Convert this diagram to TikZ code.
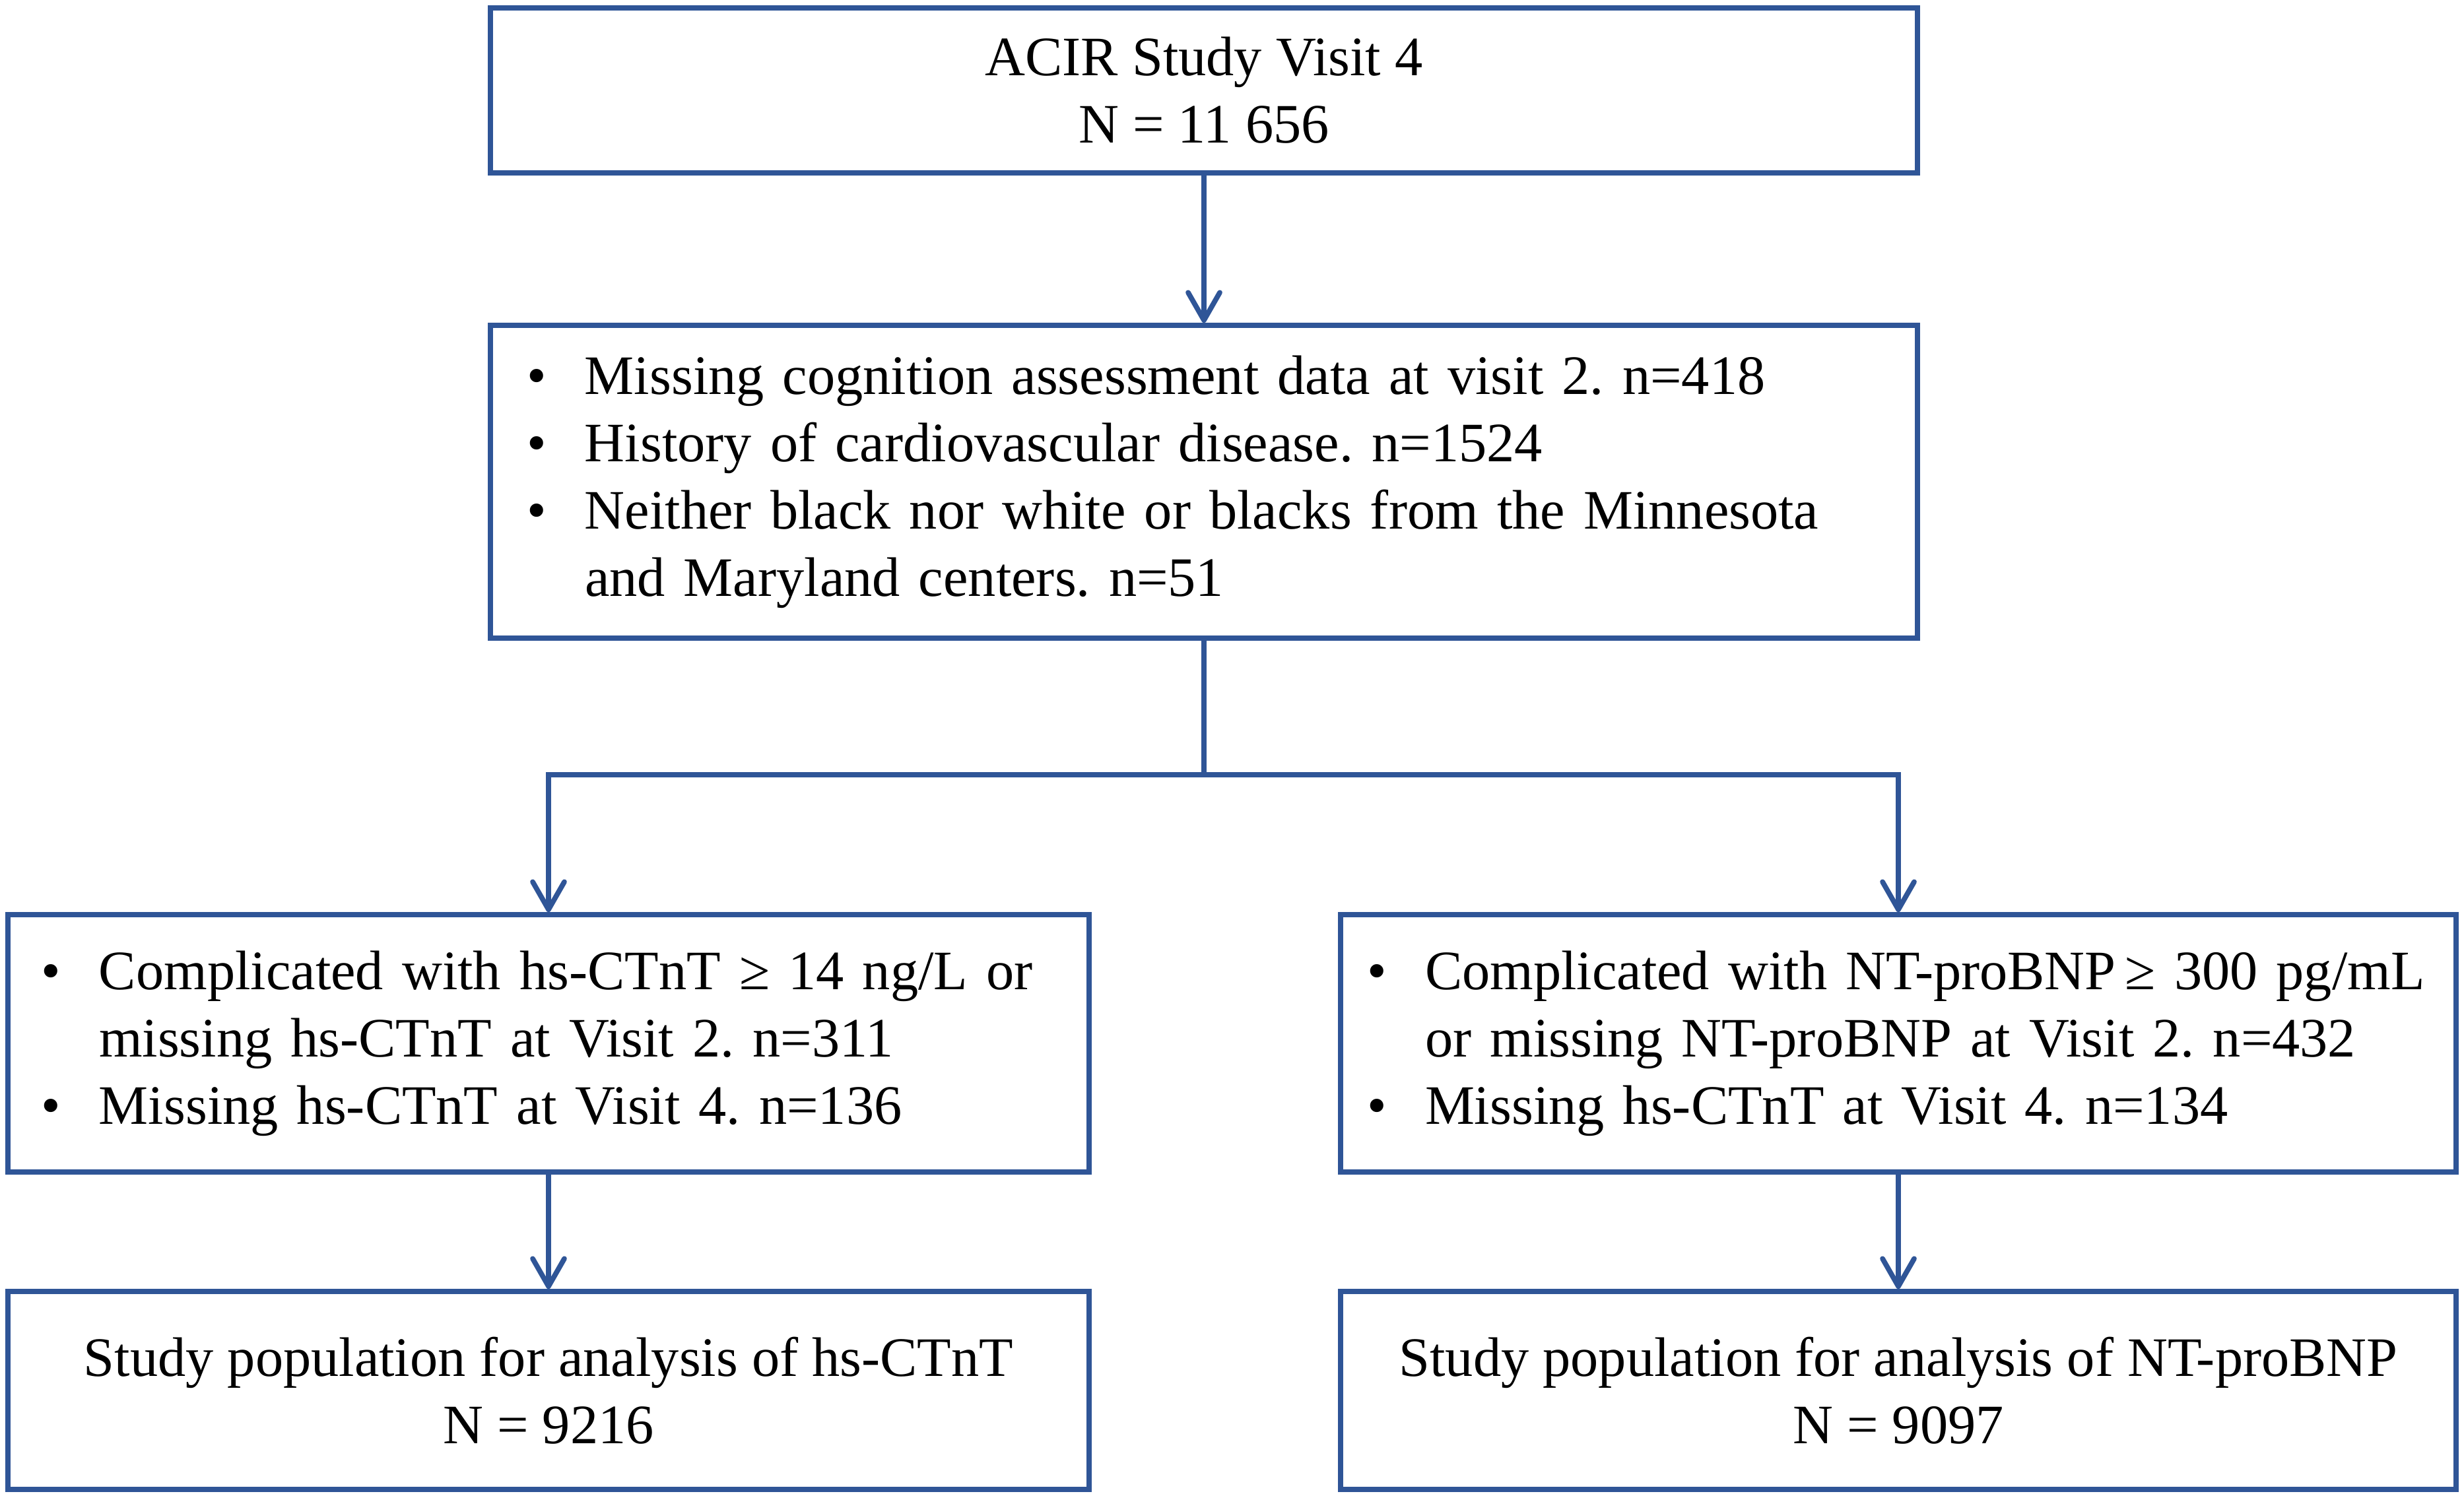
\documentclass[tikz,border=0pt]{standalone}
\usepackage{fontspec}
\setmainfont{Liberation Serif}
\usetikzlibrary{arrows.meta}
\definecolor{boxblue}{RGB}{47,85,151}
\newcommand{\bul}{\makebox[0.88cm][l]{\textbullet}}
\frenchspacing
\begin{document}
\begin{tikzpicture}
      [box/.style={draw=boxblue,line width=2.2pt,rectangle,inner xsep=0.5cm,inner ysep=0pt,
                   font=\fontsize{24}{29}\selectfont}
      ,ctr/.style={box,align=center}
      ,lst/.style={box,align=left}
      ,arr/.style={draw=boxblue,line width=2.2pt,-{Straight Barb[length=0.42cm,width=0.48cm,round]}}
      ,lin/.style={draw=boxblue,line width=2.2pt}
      ]
        \useasboundingbox (0,0) rectangle (37.33,-22.70);
        \node[ctr,minimum width=21.62cm,minimum height=2.5cm] (start) at (18.24,-1.37)
          {ACIR Study Visit 4\\N = 11 656};
        \node[lst,inner xsep=0.55cm,text width=20.52cm,minimum height=4.74cm] (excl) at (18.24,-7.30)
          {\bul Missing cognition assessment data at visit 2. n=418\\
           \bul History of cardiovascular disease. n=1524\\
           \bul Neither black nor white or blacks from the Minnesota\\
           \hspace*{0.88cm}and Maryland centers. n=51};
        \node[lst,text width=15.38cm,minimum height=3.9cm] (exclT) at (8.31,-15.81)
          {\bul Complicated with hs-CTnT ≥ 14 ng/L or\\
           \hspace*{0.88cm}missing hs-CTnT at Visit 2. n=311\\
           \bul Missing hs-CTnT at Visit 4. n=136};
        \node[lst,inner xsep=0.4cm,text width=16.1cm,minimum height=3.9cm] (exclB) at (28.76,-15.81)
          {\bul Complicated with NT-proBNP\,≥ 300 pg/mL\\
           \hspace*{0.88cm}or missing NT-proBNP at Visit 2. n=432\\
           \bul Missing hs-CTnT at Visit 4. n=134};
        \node[ctr,minimum width=16.38cm,minimum height=3.0cm] (popT) at (8.31,-21.07)
          {Study population for analysis of hs-CTnT\\N = 9216};
        \node[ctr,minimum width=16.90cm,minimum height=3.0cm] (popB) at (28.76,-21.07)
          {Study population for analysis of NT-proBNP\\N = 9097};
        \coordinate (split) at (18.24,-11.74);
        \draw[arr] (start) -- (excl);
        \draw[lin] (excl.south) -- (split);
        \draw[arr] (split) -| (exclT.north);
        \draw[arr] (split) -| (exclB.north);
        \draw[arr] (exclT) -- (popT);
        \draw[arr] (exclB) -- (popB);
      \end{tikzpicture}
\end{document}
